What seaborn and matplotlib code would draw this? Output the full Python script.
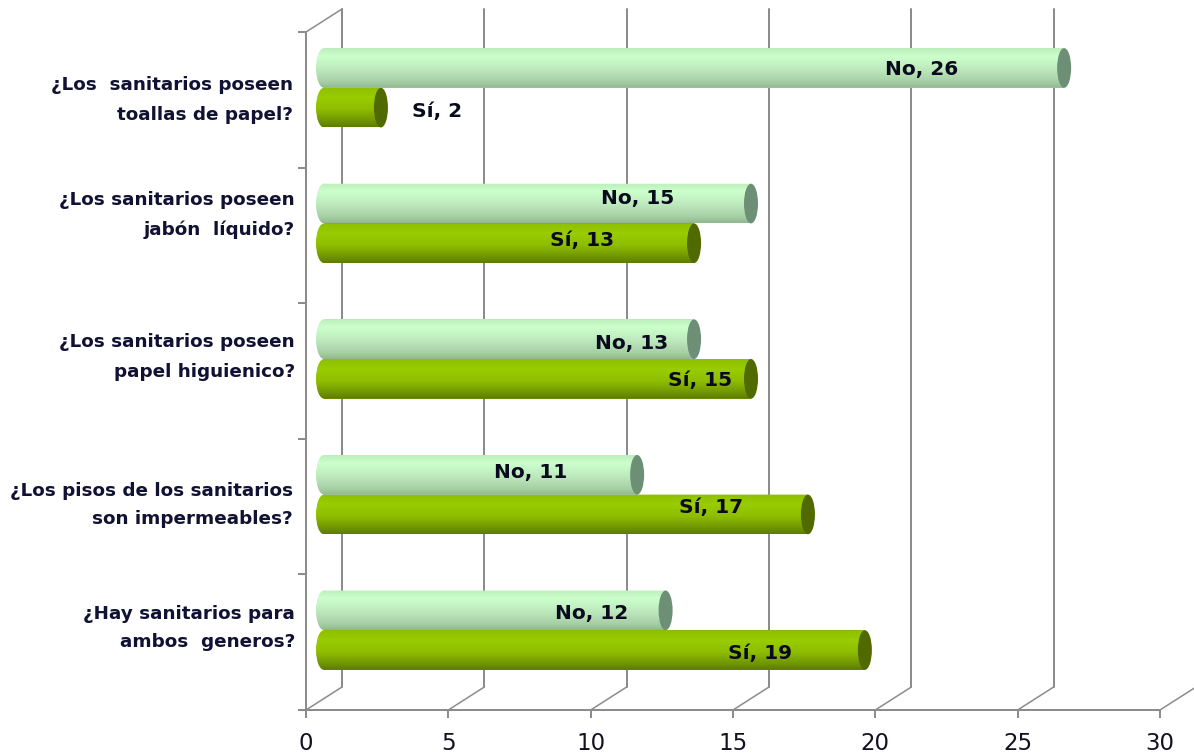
import numpy as np
import pandas as pd
import seaborn as sns
import matplotlib
matplotlib.use("Agg")
import matplotlib.pyplot as plt
from matplotlib.colors import LinearSegmentedColormap
from matplotlib.patches import Ellipse, PathPatch
from matplotlib.path import Path
from matplotlib.transforms import Affine2D

# ---- data -----------------------------------------------------------------
preguntas = [
    "¿Los  sanitarios poseen\ntoallas de papel?",
    "¿Los sanitarios poseen\njabón  líquido?",
    "¿Los sanitarios poseen\npapel higuienico?",
    "¿Los pisos de los sanitarios\nson impermeables?",
    "¿Hay sanitarios para\nambos  generos?",
]
respuesta_no = [26, 15, 13, 11, 12]
respuesta_si = [2, 13, 15, 17, 19]
series = ["No", "Sí"]
ticks_x = [0, 5, 10, 15, 20, 25, 30]

# ---- styles ---------------------------------------------------------------
W, H = 1194, 753
BOLD = "DejaVu Sans"
sns.set_theme(style="white")
plt.rcParams["font.family"] = ["DejaVu Sans"]
GRAY = "#8c8c8c"
LW = 1.1
X0, X30 = 306, 1160       # pixels of x = 0 and x = 30 on the front axis
Y_BOT, Y_TOP = 710, 32    # pixels of the front plot area
DX, DY = 36, 23           # depth of the pseudo 3D box
PX = (X30 - X0) / 30

fig = plt.figure(figsize=(W / 100, H / 100), dpi=100, facecolor="white")


def axes_px(left, right, top, bottom):
    return fig.add_axes([left / W, 1 - bottom / H, (right - left) / W, (bottom - top) / H])


# front axes: ticks, category labels, box
ax = axes_px(X0, X30, Y_TOP, Y_BOT)
ax.set_xlim(0, 30)
ax.set_ylim(len(preguntas) - 0.5, -0.5)
ax.patch.set_alpha(0)
for s in ("top", "right"):
    ax.spines[s].set_visible(False)
for s in ("left", "bottom"):
    ax.spines[s].set_color(GRAY)
    ax.spines[s].set_linewidth(LW * 1.3)
ax.set_xticks(ticks_x)
ax.set_xticklabels([str(t) for t in ticks_x], fontsize=16.5, color="#111122")
ax.set_yticks(np.arange(-0.5, len(preguntas)))
ax.set_yticklabels([])
ax.tick_params(axis="both", length=6, width=LW * 1.3, color=GRAY, bottom=True, left=True)
ax.tick_params(axis="x", pad=10)

# back wall lines and floor diagonals
dx_u = DX / PX
band_px = (Y_BOT - Y_TOP) / len(preguntas)
dy_u = DY / band_px
for t in ticks_x:
    ax.plot([t, t + dx_u], [4.5, 4.5 + -dy_u], color=GRAY, lw=LW, clip_on=False, zorder=1)
    ax.plot([t + dx_u, t + dx_u], [4.5 - dy_u, -0.5 - dy_u], color=GRAY, lw=LW * 1.3,
            clip_on=False, zorder=1)
ax.plot([0, dx_u], [-0.5, -0.5 - dy_u], color=GRAY, lw=LW, clip_on=False, zorder=1)
ax.set_xlim(0, 30)
ax.set_ylim(len(preguntas) - 0.5, -0.5)

# category labels
label_right = [293, 295, 295, 293, 295]
label_centre = [100, 215, 357, 505, 628]
label_spacing = [1.8, 1.85, 1.8, 1.7, 1.7]
for q, r, c, ls in zip(preguntas, label_right, label_centre, label_spacing):
    fig.text(r / W, 1 - c / H, q, ha="right", va="center",
             fontsize=13.2, fontweight="bold", family=BOLD, color="#111133",
             linespacing=ls, multialignment="right")

# bars axes: the bars sit half way in the depth of the box
bx = axes_px(X0 + DX / 2, X30 + DX / 2, Y_TOP - 12, Y_BOT - 12)
bx.patch.set_alpha(0)
df = pd.DataFrame({
    "pregunta": preguntas * 2,
    "serie": [series[0]] * len(preguntas) + [series[1]] * len(preguntas),
    "valor": respuesta_no + respuesta_si,
})
sns.barplot(data=df, y="pregunta", x="valor", hue="serie", hue_order=series, order=preguntas,
            palette={"No": "#b8e8b8", "Sí": "#8cb800"}, width=0.585, gap=0, orient="h",
            edgecolor="none", legend=False, ax=bx)
bx.set_xlim(0, 30)
bx.set_ylim(len(preguntas) - 0.5, -0.5)
bx.axis("off")

ramps = {
    "No": LinearSegmentedColormap.from_list("no", [(0, "#bdeebd"), (0.2, "#ccffcc"), (0.55, "#bce8bc"),
                                                    (0.85, "#a6cfa6"), (1, "#92b892")]),
    "Sí": LinearSegmentedColormap.from_list("si", [(0, "#8fc000"), (0.25, "#99cc00"), (0.55, "#8fbe00"),
                                                    (0.85, "#6f9500"), (1, "#5c7d00")]),
}
caps = {"No": "#6d8f75", "Sí": "#506a00"}
grad = np.linspace(0, 1, 64).reshape(-1, 1)
half = 7.0 / PX
left_half = 8.0 / PX
n = len(preguntas)
bars = [p for p in bx.patches if p.get_width() > 0]

# label offsets from the end of each bar, in pixels
offset_no = [(-143, 2), (-113, -5), (-62, 4), (-107, -2), (-74, 3)]
offset_si = [(56, 4), (-112, -3), (-51, 2), (-97, -7), (-105, 3)]

draw_list = []
for i, p in enumerate(bars):
    s = series[0] if i < n else series[1]
    draw_list.append((s, p, i % n))
for s, p, k in sorted(draw_list, key=lambda d: 0 if d[0] == "Sí" else 1):
    x1, y0, h = p.get_width(), p.get_y(), p.get_height()
    y1 = y0 + h
    cy = y0 + h / 2
    rect = Path([(0, y0), (x1, y0), (x1, y1), (0, y1), (0, y0)], closed=True)
    circ = Path.unit_circle().transformed(Affine2D().scale(left_half, h / 2).translate(0, cy))
    shape = PathPatch(Path.make_compound_path(rect, circ), transform=bx.transData,
                      facecolor="none", edgecolor="none")
    z = 3 if s == "Sí" else 4
    im = bx.imshow(grad, cmap=ramps[s], extent=(-left_half, x1, y1, y0), aspect="auto", zorder=z,
                   interpolation="bilinear")
    bx.add_patch(shape)
    shape.set_clip_on(False)
    im.set_clip_path(shape)
    im.set_clip_box(fig.bbox)
    bx.add_patch(Ellipse((x1, cy), 2 * half, h, facecolor=caps[s], edgecolor="none", zorder=z + 0.1))
    v = respuesta_no[k] if s == "No" else respuesta_si[k]
    off = offset_no[k] if s == "No" else offset_si[k]
    bx.annotate(f"{s}, {v}", xy=(x1, cy), xytext=(off[0] * 0.72, -off[1] * 0.72),
                textcoords="offset points", ha="center", va="center", fontsize=14.5,
                fontweight="bold", family=BOLD, color="#0a0a1e", zorder=6)
bx.set_xlim(0, 30)
bx.set_ylim(len(preguntas) - 0.5, -0.5)

fig.savefig("out.png", dpi=100, facecolor="white")
